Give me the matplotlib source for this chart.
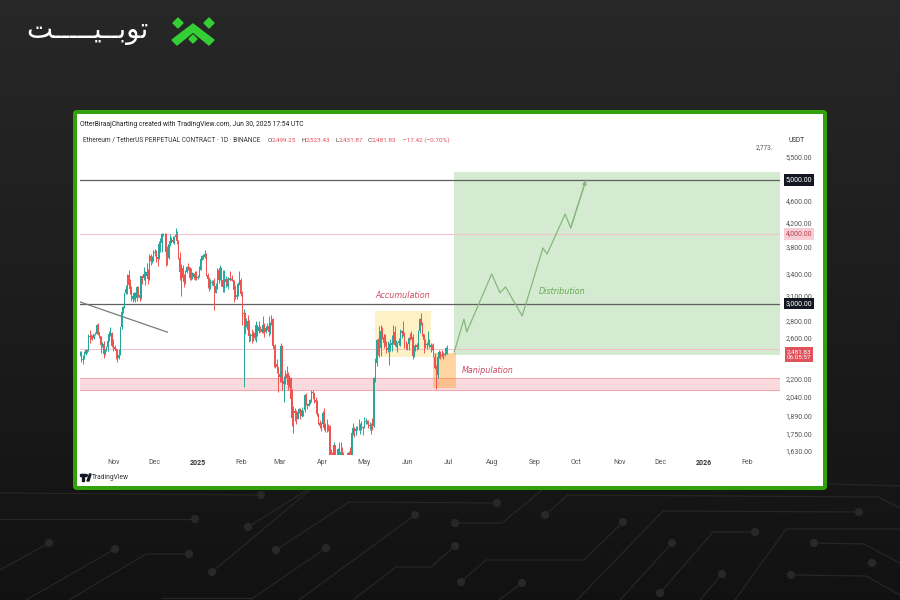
import numpy as np
import pandas as pd
import matplotlib
matplotlib.use("Agg")
import matplotlib.pyplot as plt
import matplotlib.dates as mdates
from matplotlib.patches import Rectangle, FancyBboxPatch, Polygon, Circle
from matplotlib.transforms import blended_transform_factory
from matplotlib.ticker import NullLocator

# ---------------------------------------------------------------------------
# ETH/USDT perpetual, daily candles 2024-10-08 .. 2025-06-30
# ---------------------------------------------------------------------------
first_open = 2422

close_oct = [2441, 2370, 2385, 2438, 2476, 2467, 2628, 2607, 2612, 2604, 2645, 2649,
             2747, 2667, 2620, 2525, 2535, 2438, 2480, 2507, 2568, 2640, 2660, 2518]
high_oct = [2466, 2464, 2420, 2460, 2485, 2487, 2640, 2687, 2640, 2630, 2650, 2665,
            2759, 2769, 2672, 2625, 2560, 2565, 2490, 2520, 2580, 2680, 2722, 2670]
low_oct = [2410, 2352, 2340, 2382, 2428, 2441, 2461, 2545, 2590, 2578, 2595, 2630,
           2640, 2636, 2600, 2440, 2505, 2390, 2420, 2470, 2465, 2565, 2625, 2505]

close_nov = [2510, 2490, 2460, 2397, 2422, 2720, 2895, 2961, 3128, 3184, 3372, 3245,
             3187, 3058, 3093, 3130, 3075, 3207, 3104, 3071, 3356, 3328, 3393, 3361,
             3414, 3325, 3655, 3576, 3590, 3703]
high_nov = [2590, 2530, 2500, 2485, 2485, 2727, 2915, 2970, 3135, 3240, 3390, 3440,
            3325, 3225, 3125, 3140, 3140, 3220, 3220, 3150, 3365, 3380, 3495, 3430,
            3545, 3460, 3680, 3680, 3645, 3740]
low_nov = [2470, 2475, 2380, 2360, 2380, 2420, 2704, 2880, 2950, 3115, 3125, 3210,
           3120, 3030, 3015, 3050, 3020, 3030, 3080, 3030, 3060, 3250, 3300, 3240,
           3340, 3258, 3300, 3520, 3545, 3580]

close_dec = [3707, 3644, 3613, 3836, 3858, 4000, 3995, 4005, 3715, 3629, 3833, 3880,
             3908, 3877, 3958, 3985, 3881, 3626, 3415, 3482, 3330, 3281, 3423, 3494,
             3490, 3336, 3332, 3400, 3350, 3360, 3333]
high_dec = [3760, 3750, 3670, 3890, 3940, 4010, 4018, 4010, 4010, 3800, 3840, 3995,
            3950, 3970, 3965, 4107, 4050, 3900, 3710, 3540, 3520, 3390, 3440, 3510,
            3550, 3490, 3470, 3420, 3410, 3430, 3430]
low_dec = [3650, 3560, 3500, 3605, 3720, 3720, 3960, 3940, 3510, 3515, 3600, 3800,
           3850, 3850, 3840, 3910, 3840, 3610, 3310, 3100, 3300, 3210, 3250, 3400,
           3450, 3300, 3300, 3320, 3320, 3300, 3310]

close_jan = [3353, 3451, 3606, 3657, 3635, 3686, 3380, 3326, 3218, 3267, 3282, 3266,
             3135, 3225, 3449, 3307, 3475, 3307, 3213, 3280, 3327, 3241, 3339, 3308,
             3318, 3309, 3178, 3080, 3112, 3248, 3300]
high_jan = [3370, 3500, 3620, 3670, 3675, 3745, 3700, 3410, 3345, 3320, 3300, 3300,
            3335, 3260, 3475, 3470, 3525, 3495, 3450, 3450, 3365, 3340, 3350, 3425,
            3340, 3370, 3310, 3240, 3180, 3280, 3430]
low_jan = [3320, 3345, 3440, 3590, 3600, 3620, 3360, 3205, 3155, 3190, 3240, 3230,
           2920, 3130, 3180, 3270, 3300, 3230, 3150, 3140, 3210, 3220, 3180, 3290,
           3300, 3290, 3020, 3060, 3060, 3100, 3240]

close_feb = [3125, 2870, 2880, 2733, 2788, 2686, 2622, 2632, 2628, 2660, 2600, 2740,
             2676, 2725, 2696, 2663, 2745, 2672, 2716, 2738, 2662, 2764, 2818, 2513,
             2489, 2335, 2307, 2237]
high_feb = [3330, 3160, 2930, 2900, 2830, 2860, 2800, 2660, 2700, 2680, 2740, 2790,
            2740, 2790, 2730, 2740, 2850, 2770, 2730, 2770, 2845, 2780, 2860, 2830,
            2530, 2540, 2380, 2310]
low_feb = [3100, 2740, 2120, 2650, 2720, 2640, 2560, 2570, 2550, 2570, 2580, 2560,
           2620, 2660, 2670, 2660, 2660, 2610, 2660, 2690, 2620, 2650, 2750, 2500,
           2310, 2300, 2250, 2080]

close_mar = [2218, 2518, 2150, 2173, 2241, 2200, 2140, 2202, 2018, 1866, 1920, 1908,
             1863, 1912, 1937, 1887, 1928, 1930, 2057, 1983, 1965, 1983, 2009, 2083,
             2068, 2010, 2000, 1896, 1830, 1806, 1822]
high_mar = [2280, 2550, 2525, 2220, 2280, 2320, 2260, 2230, 2210, 2110, 1960, 1950,
            1930, 1935, 1950, 1945, 1955, 1935, 2065, 2070, 1990, 1995, 2020, 2100,
            2100, 2070, 2040, 2010, 1910, 1850, 1840]
low_mar = [2170, 2170, 2100, 1995, 2150, 2180, 2100, 2120, 2000, 1810, 1755, 1845,
           1820, 1860, 1905, 1860, 1875, 1880, 1915, 1970, 1940, 1965, 1980, 1995,
           2025, 1990, 1980, 1880, 1820, 1790, 1770]

close_apr = [1904, 1796, 1816, 1817, 1806, 1580, 1553, 1473, 1669, 1522, 1566, 1642,
             1596, 1623, 1586, 1577, 1583, 1588, 1614, 1587, 1577, 1757, 1796, 1769,
             1787, 1793, 1792, 1798, 1799, 1793]
high_apr = [1925, 1950, 1830, 1860, 1820, 1815, 1640, 1620, 1690, 1670, 1590, 1650,
            1690, 1690, 1660, 1620, 1600, 1600, 1620, 1630, 1660, 1785, 1830, 1800,
            1810, 1810, 1860, 1830, 1845, 1810]
low_apr = [1815, 1780, 1760, 1760, 1770, 1540, 1410, 1450, 1385, 1470, 1505, 1540,
           1570, 1590, 1580, 1540, 1565, 1570, 1580, 1570, 1565, 1570, 1740, 1730,
           1740, 1780, 1780, 1750, 1780, 1740]

close_may = [1838, 1843, 1834, 1808, 1817, 1811, 1809, 2204, 2345, 2583, 2512, 2494,
             2680, 2609, 2545, 2547, 2478, 2495, 2524, 2525, 2553, 2664, 2527, 2535,
             2550, 2564, 2657, 2682, 2634, 2532, 2528]
high_may = [1875, 1870, 1850, 1850, 1835, 1830, 1865, 2210, 2390, 2590, 2600, 2730,
            2740, 2725, 2650, 2650, 2565, 2570, 2550, 2590, 2630, 2740, 2735, 2580,
            2560, 2600, 2700, 2690, 2790, 2670, 2565]
low_may = [1790, 1825, 1825, 1795, 1780, 1750, 1775, 1800, 2165, 2320, 2420, 2400,
           2410, 2590, 2500, 2520, 2440, 2455, 2330, 2470, 2470, 2540, 2520, 2510,
           2450, 2530, 2520, 2600, 2625, 2500, 2485]

close_jun = [2539, 2605, 2592, 2607, 2417, 2481, 2524, 2508, 2682, 2816, 2771, 2644,
             2580, 2525, 2537, 2550, 2511, 2524, 2522, 2409, 2302, 2228, 2407, 2450,
             2420, 2417, 2425, 2437, 2499.25, 2481.83]
high_jun = [2545, 2610, 2660, 2680, 2650, 2525, 2535, 2545, 2690, 2827, 2880, 2780,
            2650, 2590, 2560, 2680, 2590, 2545, 2540, 2550, 2440, 2330, 2430, 2480,
            2470, 2480, 2450, 2450, 2510, 2523.43]
low_jun = [2475, 2480, 2585, 2590, 2380, 2405, 2460, 2480, 2490, 2660, 2740, 2620,
           2440, 2500, 2490, 2530, 2500, 2455, 2480, 2400, 2290, 2110, 2200, 2390,
           2385, 2400, 2380, 2410, 2430, 2431.87]

# Drawn annotations
support_band = (2098, 2200)
key_levels = [5000, 3000]
mid_level = 4000
last_price = 2481.83
last_timer = "06:05:57"

trend_dates = ["2024-10-08", "2024-12-10"]
trend_prices = [3020, 2665]

accum_box = ("2025-05-09", "2025-06-18", 2405, 2910)
manip_box = ("2025-06-20", "2025-07-06", 2116, 2445)
distrib_box = ("2025-07-05", "2026-03-31", 2420, 5170)

path_dates = ["2025-07-05", "2025-07-12", "2025-07-14", "2025-08-01", "2025-08-07",
              "2025-08-11", "2025-08-23", "2025-09-07", "2025-09-10", "2025-09-23",
              "2025-09-27", "2025-10-08"]
path_prices = [2455, 2813, 2667, 3390, 3135, 3213, 2849, 3775, 3682, 4345, 4102, 5000]

price_ticks = [5500, 4600, 4200, 3800, 3400, 3100, 2800, 2600, 2200, 2040, 1890, 1750, 1630]
month_ticks = ["2024-11-01", "2024-12-01", "2025-01-01", "2025-02-01", "2025-03-01",
               "2025-04-01", "2025-05-01", "2025-06-01", "2025-07-01", "2025-08-01",
               "2025-09-01", "2025-10-01", "2025-11-01", "2025-12-01", "2026-01-01",
               "2026-02-01"]
month_labels = ["Nov", "Dec", "2025", "Feb", "Mar", "Apr", "May", "Jun", "Jul", "Aug",
                "Sep", "Oct", "Nov", "Dec", "2026", "Feb"]

# ---------------------------------------------------------------------------
W, H = 900, 600
UP, DOWN = "#26a69a", "#ef5350"
FONT = "Roboto"


def px_rect(x0, y0, x1, y1):
    return [x0 / W, 1 - y1 / H, (x1 - x0) / W, (y1 - y0) / H]


def ftext(x, y, s, **kw):
    return fig.text(x / W, 1 - y / H, s, **kw)


fig = plt.figure(figsize=(W / 100, H / 100), dpi=100)

# ---- dark backdrop --------------------------------------------------------
bg = fig.add_axes([0, 0, 1, 1])
bg.set_xlim(0, W)
bg.set_ylim(H, 0)
bg.axis("off")
shade = np.linspace(0.155, 0.07, 300)[:, None, None] * np.ones((1, 1, 3))
bg.imshow(shade, extent=(0, W, H, 0), aspect="auto", zorder=0)

circuit = [
    [(0, 493), (261, 495)],
    [(0, 519), (195, 519)],
    [(0, 570), (49, 543)],
    [(26, 600), (115, 549)],
    [(69, 600), (146, 554), (189, 554)],
    [(212, 572), (310, 490)],
    [(248, 527), (307, 490)],
    [(276, 550), (349, 502), (497, 503)],
    [(326, 548), (253, 598)],
    [(415, 515), (299, 600)],
    [(455, 523), (502, 523), (542, 490)],
    [(455, 546), (431, 567), (396, 567), (353, 600)],
    [(461, 582), (486, 560), (584, 560), (623, 522)],
    [(545, 515), (568, 495), (878, 497), (900, 508)],
    [(522, 583), (499, 600)],
    [(672, 543), (620, 600)],
    [(859, 512), (663, 511), (577, 600)],
    [(755, 532), (713, 532), (660, 593)],
    [(722, 574), (700, 600)],
    [(900, 529), (786, 529), (735, 600)],
    [(814, 543), (864, 544), (900, 563)],
    [(791, 575), (866, 576), (900, 595)],
    [(161, 598), (253, 598)],
    [(830, 484), (900, 486)],
]
dots = [(261, 495), (195, 519), (49, 543), (115, 549), (189, 554), (212, 572),
        (248, 527), (276, 550), (497, 503), (326, 548), (415, 515), (455, 523),
        (455, 546), (461, 582), (623, 522), (545, 515), (522, 583), (672, 543),
        (859, 512), (755, 532), (660, 593), (722, 574), (814, 543), (791, 575),
        (872, 563)]
for line in circuit:
    xs, ys = zip(*line)
    bg.plot(xs, ys, color="#262626", lw=0.9, zorder=1, solid_capstyle="round")
for (cx, cy) in dots:
    bg.add_patch(Circle((cx, cy), 3.4, color="#282828", zorder=1))

# ---- brand mark -------------------------------------------------------------
kashida = "\u0640"
logo_word = ("\uFE96" + kashida * 5 + "\uFEF4" + kashida * 2 +
             "\uFE91\uFEEE\uFE97")   # توبیت, stretched
ftext(26, 31, logo_word, fontsize=20, color="white", family="DejaVu Sans",
      ha="left", va="center")
G = "#35cf35"
bg.add_patch(Polygon([(173, 23), (178, 18), (183, 23), (178, 28)], color=G, zorder=2))
bg.add_patch(Polygon([(204, 23), (209, 18), (214, 23), (209, 28)], color=G, zorder=2))
bg.add_patch(Polygon([(172, 40), (193, 24), (214, 40), (209, 45), (193, 32), (177, 45)],
                     color=G, zorder=2))
bg.add_patch(Polygon([(189, 39), (193, 35), (197, 39), (193, 43)], color=G, zorder=2))

# ---- card ---------------------------------------------------------------------
bg.add_patch(FancyBboxPatch((73, 110), 754, 380, boxstyle="round,pad=0,rounding_size=4",
                            fc="#33a10a", ec="none", zorder=2))
bg.add_patch(Rectangle((77, 114), 746, 372, fc="white", ec="none", zorder=3))

# header lines
ftext(80, 125, "OtterBiraajCharting created with TradingView.com, Jun 30, 2025 17:54 UTC",
      fontsize=4.9, color="#222", family=FONT, va="center")
ftext(83, 140, "Ethereum / TetherUS PERPETUAL CONTRACT \u00b7 1D \u00b7 BINANCE",
      fontsize=4.7, color="#333", family=FONT, va="center")
ohlc_parts = [(268, "O", "#444"), (272, "2,499.25", "#e0525c"),
              (302, "H", "#444"), (306, "2,523.43", "#e0525c"),
              (335, "L", "#444"), (339, "2,431.87", "#e0525c"),
              (368, "C", "#444"), (372, "2,481.83", "#e0525c"),
              (403, "\u221217.42 (\u22120.70%)", "#e0525c")]
for px, s, c in ohlc_parts:
    ftext(px, 140, s, fontsize=4.6, color=c, family=FONT, va="center")

ftext(797, 140, "USDT", fontsize=4.7, color="#333", family=FONT, ha="center", va="center")
ftext(773, 148, "2,773.", fontsize=4.7, color="#555", family=FONT, ha="right", va="center")

# TradingView mark
bg.add_patch(Rectangle((80, 474), 5, 2, color="#131722", zorder=4))
bg.add_patch(Rectangle((82, 474), 2, 7, color="#131722", zorder=4))
bg.add_patch(Circle((86.3, 475.5), 1.0, color="#131722", zorder=4))
bg.add_patch(Polygon([(87, 481), (89.5, 474), (91, 474), (89, 481)], color="#131722", zorder=4))
ftext(92, 477.5, "TradingView", fontsize=4.8, color="#333", family=FONT, va="center")

# ---- price chart ----------------------------------------------------------------
ax = fig.add_axes(px_rect(80, 150, 780, 455))
ax.set_yscale("log")
d = lambda s: mdates.date2num(pd.Timestamp(s))
ax.set_xlim(d("2024-10-08"), d("2026-02-25"))
ax.set_ylim(1603, 5662)
ax.patch.set_alpha(0)
for sp in ax.spines.values():
    sp.set_visible(False)

closes = np.array(close_oct + close_nov + close_dec + close_jan + close_feb +
                  close_mar + close_apr + close_may + close_jun, dtype=float)
highs = np.array(high_oct + high_nov + high_dec + high_jan + high_feb +
                 high_mar + high_apr + high_may + high_jun, dtype=float)
lows = np.array(low_oct + low_nov + low_dec + low_jan + low_feb +
                low_mar + low_apr + low_may + low_jun, dtype=float)
# a 24/7 market: each daily candle opens at the previous close
opens = np.concatenate([[first_open], closes[:-1]])
dates = pd.date_range("2024-10-08", periods=len(closes), freq="D")
xd = mdates.date2num(dates)

# zones
def box(spec, **kw):
    x0, x1, y0, y1 = spec
    ax.add_patch(Rectangle((d(x0), y0), d(x1) - d(x0), y1 - y0, **kw))

box(distrib_box, fc="#d4ebd1", ec="none", zorder=1)
box(accum_box, fc="#fdf2c6", ec="none", zorder=1)
ax.axhspan(*support_band, fc="#fadadd", ec="none", zorder=1)
for v in support_band:
    ax.axhline(v, color="#f1aab3", lw=0.8, zorder=2)
box(manip_box, fc="#ff9a1f", alpha=0.42, ec="none", zorder=2.5)

for v in key_levels:
    ax.axhline(v, color="#5f5f5f", lw=0.9, zorder=2)
ax.axhline(mid_level, color="#f0c6cc", lw=0.8, zorder=2)
ax.axhline(last_price, color="#f0c0c5", lw=0.7, zorder=2)

ax.plot([d(s) for s in trend_dates], trend_prices, color="#7a7a7a", lw=0.9, zorder=3)

# projected path
px_dates = [d(s) for s in path_dates]
ax.plot(px_dates, path_prices, color="#86b87c", lw=0.9, zorder=3)
ax.annotate("", xy=(px_dates[-1], path_prices[-1]), xytext=(px_dates[-2], path_prices[-2]),
            arrowprops=dict(arrowstyle="-|>,head_length=0.25,head_width=0.12",
                            color="#86b87c", lw=0.9, shrinkA=0, shrinkB=0), zorder=3)

# candles
cols = np.where(closes >= opens, UP, DOWN)
ax.vlines(xd, lows, highs, colors=cols, lw=0.7, zorder=4)
ax.bar(xd, closes - opens, bottom=opens, width=0.9, color=cols, lw=0, zorder=5)

# zone captions
ax.text(d("2025-05-29"), 3095, "Accumulation", fontsize=5.8, style="italic",
        color="#cc4a62", ha="center", va="center", zorder=6)
ax.text(d("2025-07-29"), 2270, "Manipulation", fontsize=5.8, style="italic",
        color="#cc4a62", ha="center", va="center", zorder=6)
ax.text(d("2025-09-21"), 3147, "Distribution", fontsize=5.8, style="italic",
        color="#6aaa55", ha="center", va="center", zorder=6)

# axes: price scale on the right, months below
ax.yaxis.tick_right()
ax.set_yticks(price_ticks, [f"{v:,.2f}" for v in price_ticks])
ax.yaxis.set_minor_locator(NullLocator())
ax.tick_params(axis="y", length=0, pad=4, labelsize=5, labelcolor="#555")
ax.set_xticks([d(s) for s in month_ticks], month_labels)
ax.tick_params(axis="x", length=0, pad=3, labelsize=5, labelcolor="#555")
for lbl in ax.get_xticklabels() + ax.get_yticklabels():
    lbl.set_family(FONT)
for lbl in ax.get_xticklabels():
    if lbl.get_text() in ("2025", "2026"):
        lbl.set_fontweight("bold")
        lbl.set_color("#333")

trans = blended_transform_factory(ax.transAxes, ax.transData)
xlab = (799 - 80) / 700
for v, fc, tc in [(5000, "#131722", "white"), (3000, "#131722", "white"),
                  (mid_level, "#f8ccd3", "#b8414f")]:
    ax.text(xlab, v, f"{v:,.2f}", transform=trans, ha="center", va="center",
            fontsize=5, color=tc, family=FONT, clip_on=False, zorder=7,
            bbox=dict(boxstyle="square,pad=0.3", fc=fc, ec="none"))
ax.text(xlab, last_price, f"{last_price:,.2f}\n{last_timer}", transform=trans,
        ha="center", va="top", fontsize=4.6, color="white", family=FONT,
        linespacing=1.1, clip_on=False, zorder=7,
        bbox=dict(boxstyle="square,pad=0.3", fc="#e0525c", ec="none"))

fig.savefig("out.png", dpi=100)
